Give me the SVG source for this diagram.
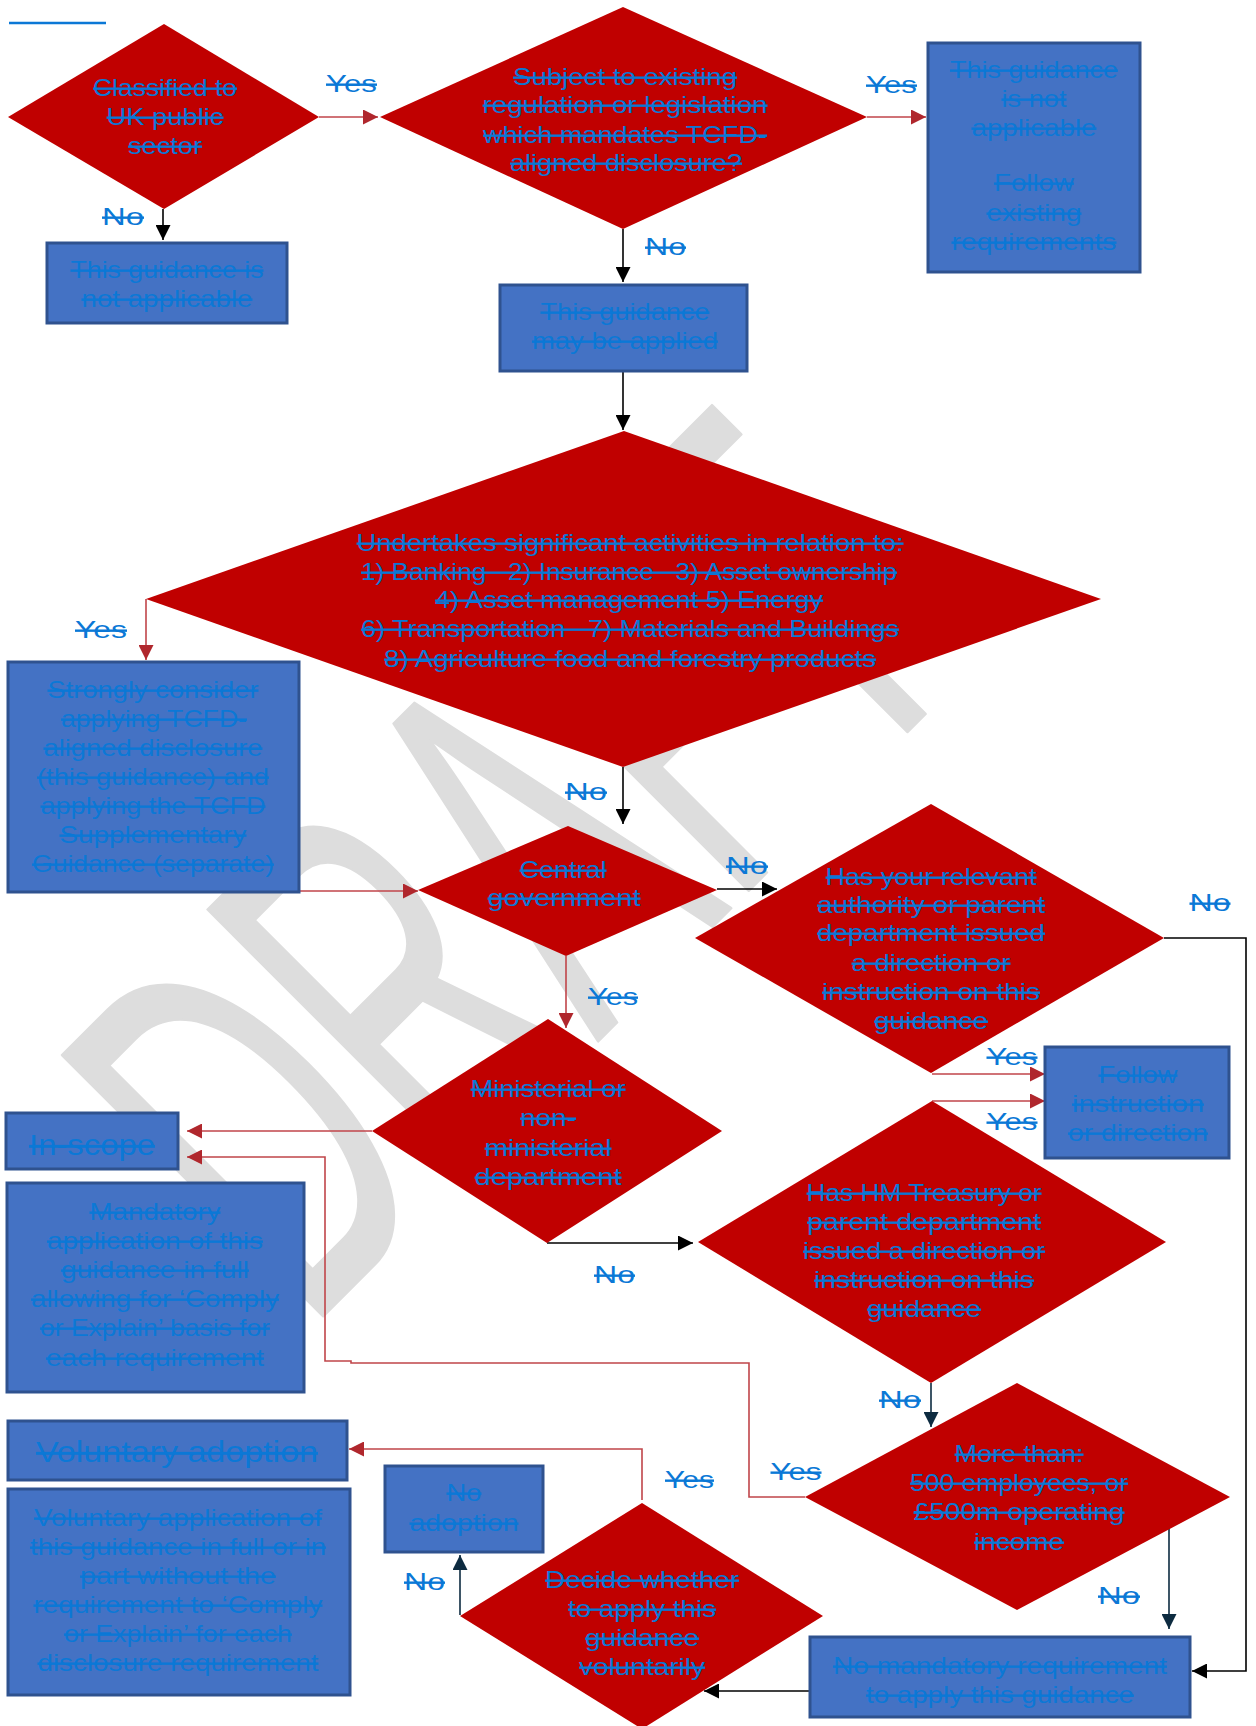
<svg xmlns="http://www.w3.org/2000/svg" width="1256" height="1726" viewBox="0 0 1256 1726">
<style>
.t{font-family:"Liberation Sans",Arial,sans-serif;font-size:24px;fill:#0B78D6;text-decoration:line-through;text-anchor:middle;}
.big{font-size:29px;}
.lbl{font-family:"Liberation Sans",Arial,sans-serif;font-size:24px;fill:#0B78D6;text-decoration:line-through;text-anchor:middle;}
.pre{white-space:pre;}
.dia{fill:#C00000;}
.box{fill:#4472C4;stroke:#2F528F;stroke-width:3;}
.cr{fill:none;stroke:#C0454A;stroke-width:1.6;marker-end:url(#mr);}
.ck{fill:none;stroke:#000000;stroke-width:1.6;marker-end:url(#mk);}
.cn{fill:none;stroke:#0D2B40;stroke-width:1.6;marker-end:url(#mn);}
.wm{font-family:"Liberation Sans",Arial,sans-serif;font-size:536px;fill:#dddddd;stroke:#dddddd;stroke-width:3;stroke-linejoin:round;}
</style>
<defs>
<marker id="mr" viewBox="0 0 10 10" refX="10" refY="5" markerWidth="15" markerHeight="15" markerUnits="userSpaceOnUse" orient="auto"><path d="M0,0 L10,5 L0,10 z" fill="#B0272D"/></marker>
<marker id="mk" viewBox="0 0 10 10" refX="10" refY="5" markerWidth="15" markerHeight="15" markerUnits="userSpaceOnUse" orient="auto"><path d="M0,0 L10,5 L0,10 z" fill="#000000"/></marker>
<marker id="mn" viewBox="0 0 10 10" refX="10" refY="5" markerWidth="15" markerHeight="15" markerUnits="userSpaceOnUse" orient="auto"><path d="M0,0 L10,5 L0,10 z" fill="#0D2B40"/></marker>
</defs>
<rect width="1256" height="1726" fill="#ffffff"/>
<g id="watermark">
<text class="wm" transform="rotate(-45)" x="-726" y="1159" textLength="950" lengthAdjust="spacingAndGlyphs">DRAFT</text>
</g>
<line x1="9" y1="23" x2="106" y2="23" stroke="#0B78D6" stroke-width="2.5"/>
<g id="connectors">
<path class="cr" d="M319,117 H378"/>
<path class="ck" d="M163,209 V240"/>
<path class="cr" d="M867,117 H926"/>
<path class="ck" d="M623,229 V282"/>
<path class="ck" d="M623,371 V430"/>
<path class="cr" d="M146,599 V660"/>
<path class="ck" d="M623,767 V824"/>
<path class="cr" d="M299,891 H418"/>
<path class="ck" d="M717,889 H777"/>
<path class="cr" d="M566,956 V1028"/>
<path class="cr" d="M932,1074 H1045"/>
<path class="cr" d="M932,1101 H1045"/>
<path class="ck" d="M1164,938 H1246 V1671 H1192"/>
<path class="cr" d="M372,1131 H187"/>
<path class="ck" d="M547,1243 H693"/>
<path class="cn" d="M931,1383 V1427"/>
<path class="cr" d="M805,1497 H749 V1363 H351 V1361 H325 V1157 H187"/>
<path class="cn" d="M1169,1525 V1629"/>
<path class="ck" d="M809,1691 H704"/>
<path class="cn" d="M460,1615 V1555"/>
<path class="cr" d="M642,1500 V1449 H349"/>
</g>
<g id="n1">
<polygon class="dia" points="164,24 319,117 164,209 8,117"/>
<text class="t" x="165" y="96" textLength="144" lengthAdjust="spacingAndGlyphs">Classified to</text>
<text class="t" x="165" y="125" textLength="117" lengthAdjust="spacingAndGlyphs">UK public</text>
<text class="t" x="165" y="154" textLength="74" lengthAdjust="spacingAndGlyphs">sector</text>
</g>
<g id="n2">
<rect class="box" x="47" y="243" width="240" height="80"/>
<text class="t" x="167" y="278" textLength="193" lengthAdjust="spacingAndGlyphs">This guidance is</text>
<text class="t" x="167" y="307" textLength="171" lengthAdjust="spacingAndGlyphs">not applicable</text>
</g>
<g id="n3">
<polygon class="dia" points="623,7 867,117 623,229 380,117"/>
<text class="t" x="625" y="85" textLength="224" lengthAdjust="spacingAndGlyphs">Subject to existing</text>
<text class="t" x="625" y="113" textLength="285" lengthAdjust="spacingAndGlyphs">regulation or legislation</text>
<text class="t" x="625" y="143" textLength="284" lengthAdjust="spacingAndGlyphs">which mandates TCFD-</text>
<text class="t" x="626" y="171" textLength="232" lengthAdjust="spacingAndGlyphs">aligned disclosure?</text>
</g>
<g id="n4">
<rect class="box" x="928" y="43" width="212" height="229"/>
<text class="t" x="1034" y="78" textLength="168" lengthAdjust="spacingAndGlyphs">This guidance</text>
<text class="t" x="1034" y="107" textLength="65" lengthAdjust="spacingAndGlyphs">is not</text>
<text class="t" x="1034" y="136" textLength="125" lengthAdjust="spacingAndGlyphs">applicable</text>
<text class="t" x="1034" y="191" textLength="80" lengthAdjust="spacingAndGlyphs">Follow</text>
<text class="t" x="1034" y="221" textLength="95" lengthAdjust="spacingAndGlyphs">existing</text>
<text class="t" x="1034" y="250" textLength="165" lengthAdjust="spacingAndGlyphs">requirements</text>
</g>
<g id="n5">
<rect class="box" x="500" y="285" width="247" height="86"/>
<text class="t" x="625" y="320" textLength="169" lengthAdjust="spacingAndGlyphs">This guidance</text>
<text class="t" x="625" y="349" textLength="186" lengthAdjust="spacingAndGlyphs">may be applied</text>
</g>
<g id="n6">
<polygon class="dia" points="624,431 1101,599 623,767 146,599"/>
<text class="t" x="630" y="551" textLength="547" lengthAdjust="spacingAndGlyphs">Undertakes significant activities in relation to:</text>
<text class="t pre" x="629" y="580" textLength="536" lengthAdjust="spacingAndGlyphs">1) Banking   2) Insurance   3) Asset ownership</text>
<text class="t" x="629" y="608" textLength="388" lengthAdjust="spacingAndGlyphs">4) Asset management 5) Energy</text>
<text class="t pre" x="630" y="637" textLength="538" lengthAdjust="spacingAndGlyphs">6) Transportation   7) Materials and Buildings</text>
<text class="t" x="630" y="667" textLength="492" lengthAdjust="spacingAndGlyphs">8) Agriculture food and forestry products</text>
</g>
<g id="n7">
<rect class="box" x="8" y="662" width="291" height="230"/>
<text class="t" x="153" y="698" textLength="211" lengthAdjust="spacingAndGlyphs">Strongly consider</text>
<text class="t" x="154" y="727" textLength="186" lengthAdjust="spacingAndGlyphs">applying TCFD-</text>
<text class="t" x="153" y="756" textLength="219" lengthAdjust="spacingAndGlyphs">aligned disclosure</text>
<text class="t" x="153" y="785" textLength="232" lengthAdjust="spacingAndGlyphs">(this guidance) and</text>
<text class="t" x="153" y="814" textLength="225" lengthAdjust="spacingAndGlyphs">applying the TCFD</text>
<text class="t" x="153" y="843" textLength="187" lengthAdjust="spacingAndGlyphs">Supplementary</text>
<text class="t" x="153" y="872" textLength="242" lengthAdjust="spacingAndGlyphs">Guidance (separate)</text>
</g>
<g id="n8">
<polygon class="dia" points="568,826 717,890 566,956 418,890"/>
<text class="t" x="563" y="878" textLength="87" lengthAdjust="spacingAndGlyphs">Central</text>
<text class="t" x="564" y="906" textLength="153" lengthAdjust="spacingAndGlyphs">government</text>
</g>
<g id="n9">
<polygon class="dia" points="931,804 1164,938 931,1073 695,938"/>
<text class="t" x="931" y="885" textLength="211" lengthAdjust="spacingAndGlyphs">Has your relevant</text>
<text class="t" x="931" y="913" textLength="228" lengthAdjust="spacingAndGlyphs">authority or parent</text>
<text class="t" x="931" y="941" textLength="228" lengthAdjust="spacingAndGlyphs">department issued</text>
<text class="t" x="931" y="971" textLength="159" lengthAdjust="spacingAndGlyphs">a direction or</text>
<text class="t" x="931" y="1000" textLength="218" lengthAdjust="spacingAndGlyphs">instruction on this</text>
<text class="t" x="931" y="1029" textLength="114" lengthAdjust="spacingAndGlyphs">guidance</text>
</g>
<g id="n10">
<polygon class="dia" points="548,1019 722,1131 547,1243 372,1131"/>
<text class="t" x="548" y="1097" textLength="155" lengthAdjust="spacingAndGlyphs">Ministerial or</text>
<text class="t" x="548" y="1126" textLength="56" lengthAdjust="spacingAndGlyphs">non-</text>
<text class="t" x="548" y="1156" textLength="127" lengthAdjust="spacingAndGlyphs">ministerial</text>
<text class="t" x="548" y="1185" textLength="147" lengthAdjust="spacingAndGlyphs">department</text>
</g>
<g id="n11">
<rect class="box" x="1045" y="1047" width="184" height="111"/>
<text class="t" x="1138" y="1083" textLength="79" lengthAdjust="spacingAndGlyphs">Follow</text>
<text class="t" x="1138" y="1112" textLength="132" lengthAdjust="spacingAndGlyphs">instruction</text>
<text class="t" x="1138" y="1141" textLength="140" lengthAdjust="spacingAndGlyphs">or direction</text>
</g>
<g id="n12">
<rect class="box" x="6" y="1113" width="172" height="56"/>
<text class="t big" x="92" y="1155" textLength="126" lengthAdjust="spacingAndGlyphs">In-scope</text>
</g>
<g id="n13">
<rect class="box" x="7" y="1183" width="297" height="209"/>
<text class="t" x="155" y="1220" textLength="131" lengthAdjust="spacingAndGlyphs">Mandatory</text>
<text class="t" x="155" y="1249" textLength="216" lengthAdjust="spacingAndGlyphs">application of this</text>
<text class="t" x="155" y="1278" textLength="188" lengthAdjust="spacingAndGlyphs">guidance in full</text>
<text class="t" x="155" y="1307" textLength="248" lengthAdjust="spacingAndGlyphs">allowing for ‘Comply</text>
<text class="t" x="155" y="1336" textLength="230" lengthAdjust="spacingAndGlyphs">or Explain’ basis for</text>
<text class="t" x="155" y="1366" textLength="218" lengthAdjust="spacingAndGlyphs">each requirement</text>
</g>
<g id="n14">
<polygon class="dia" points="932,1101 1166,1242 931,1383 698,1242"/>
<text class="t" x="924" y="1201" textLength="235" lengthAdjust="spacingAndGlyphs">Has HM Treasury or</text>
<text class="t" x="924" y="1230" textLength="234" lengthAdjust="spacingAndGlyphs">parent department</text>
<text class="t" x="924" y="1259" textLength="242" lengthAdjust="spacingAndGlyphs">issued a direction or</text>
<text class="t" x="924" y="1288" textLength="220" lengthAdjust="spacingAndGlyphs">instruction on this</text>
<text class="t" x="924" y="1317" textLength="114" lengthAdjust="spacingAndGlyphs">guidance</text>
</g>
<g id="n15">
<polygon class="dia" points="1017,1383 1230,1497 1017,1610 805,1497"/>
<text class="t" x="1019" y="1462" textLength="129" lengthAdjust="spacingAndGlyphs">More than:</text>
<text class="t" x="1019" y="1491" textLength="218" lengthAdjust="spacingAndGlyphs">500 employees, or</text>
<text class="t" x="1019" y="1520" textLength="211" lengthAdjust="spacingAndGlyphs">£500m operating</text>
<text class="t" x="1019" y="1550" textLength="90" lengthAdjust="spacingAndGlyphs">income</text>
</g>
<g id="n16">
<rect class="box" x="810" y="1637" width="380" height="80"/>
<text class="t" x="1000" y="1674" textLength="334" lengthAdjust="spacingAndGlyphs">No mandatory requirement</text>
<text class="t" x="1000" y="1703" textLength="268" lengthAdjust="spacingAndGlyphs">to apply this guidance</text>
</g>
<g id="n17">
<rect class="box" x="8" y="1421" width="339" height="59"/>
<text class="t big" x="177" y="1462" textLength="282" lengthAdjust="spacingAndGlyphs">Voluntary adoption</text>
</g>
<g id="n18">
<rect class="box" x="8" y="1489" width="342" height="206"/>
<text class="t" x="178" y="1526" textLength="288" lengthAdjust="spacingAndGlyphs">Voluntary application of</text>
<text class="t" x="178" y="1555" textLength="296" lengthAdjust="spacingAndGlyphs">this guidance in full or in</text>
<text class="t" x="178" y="1584" textLength="196" lengthAdjust="spacingAndGlyphs">part without the</text>
<text class="t" x="178" y="1613" textLength="289" lengthAdjust="spacingAndGlyphs">requirement to ‘Comply</text>
<text class="t" x="178" y="1642" textLength="228" lengthAdjust="spacingAndGlyphs">or Explain’ for each</text>
<text class="t" x="178" y="1671" textLength="281" lengthAdjust="spacingAndGlyphs">disclosure requirement</text>
</g>
<g id="n19">
<rect class="box" x="385" y="1466" width="158" height="86"/>
<text class="t" x="464" y="1501" textLength="35" lengthAdjust="spacingAndGlyphs">No</text>
<text class="t" x="464" y="1531" textLength="109" lengthAdjust="spacingAndGlyphs">adoption</text>
</g>
<g id="n20">
<polygon class="dia" points="642,1503 823,1616 642,1729 460,1616"/>
<text class="t" x="642" y="1588" textLength="194" lengthAdjust="spacingAndGlyphs">Decide whether</text>
<text class="t" x="642" y="1617" textLength="148" lengthAdjust="spacingAndGlyphs">to apply this</text>
<text class="t" x="642" y="1646" textLength="114" lengthAdjust="spacingAndGlyphs">guidance</text>
<text class="t" x="642" y="1675" textLength="126" lengthAdjust="spacingAndGlyphs">voluntarily</text>
</g>
<g id="labels">
<text class="lbl" x="351.5" y="92" textLength="51" lengthAdjust="spacingAndGlyphs">Yes</text>
<text class="lbl" x="123" y="225" textLength="42" lengthAdjust="spacingAndGlyphs">No</text>
<text class="lbl" x="891.5" y="93" textLength="51" lengthAdjust="spacingAndGlyphs">Yes</text>
<text class="lbl" x="665.5" y="255" textLength="41" lengthAdjust="spacingAndGlyphs">No</text>
<text class="lbl" x="101" y="638" textLength="52" lengthAdjust="spacingAndGlyphs">Yes</text>
<text class="lbl" x="586" y="800" textLength="42" lengthAdjust="spacingAndGlyphs">No</text>
<text class="lbl" x="747" y="874" textLength="42" lengthAdjust="spacingAndGlyphs">No</text>
<text class="lbl" x="613" y="1005" textLength="50" lengthAdjust="spacingAndGlyphs">Yes</text>
<text class="lbl" x="1210" y="911" textLength="41" lengthAdjust="spacingAndGlyphs">No</text>
<text class="lbl" x="1012" y="1065" textLength="51" lengthAdjust="spacingAndGlyphs">Yes</text>
<text class="lbl" x="1012" y="1130" textLength="51" lengthAdjust="spacingAndGlyphs">Yes</text>
<text class="lbl" x="614.5" y="1283" textLength="41" lengthAdjust="spacingAndGlyphs">No</text>
<text class="lbl" x="900" y="1408" textLength="42" lengthAdjust="spacingAndGlyphs">No</text>
<text class="lbl" x="796" y="1480" textLength="51" lengthAdjust="spacingAndGlyphs">Yes</text>
<text class="lbl" x="689.5" y="1488" textLength="49" lengthAdjust="spacingAndGlyphs">Yes</text>
<text class="lbl" x="424.5" y="1590" textLength="41" lengthAdjust="spacingAndGlyphs">No</text>
<text class="lbl" x="1119" y="1604" textLength="42" lengthAdjust="spacingAndGlyphs">No</text>
</g>
</svg>
